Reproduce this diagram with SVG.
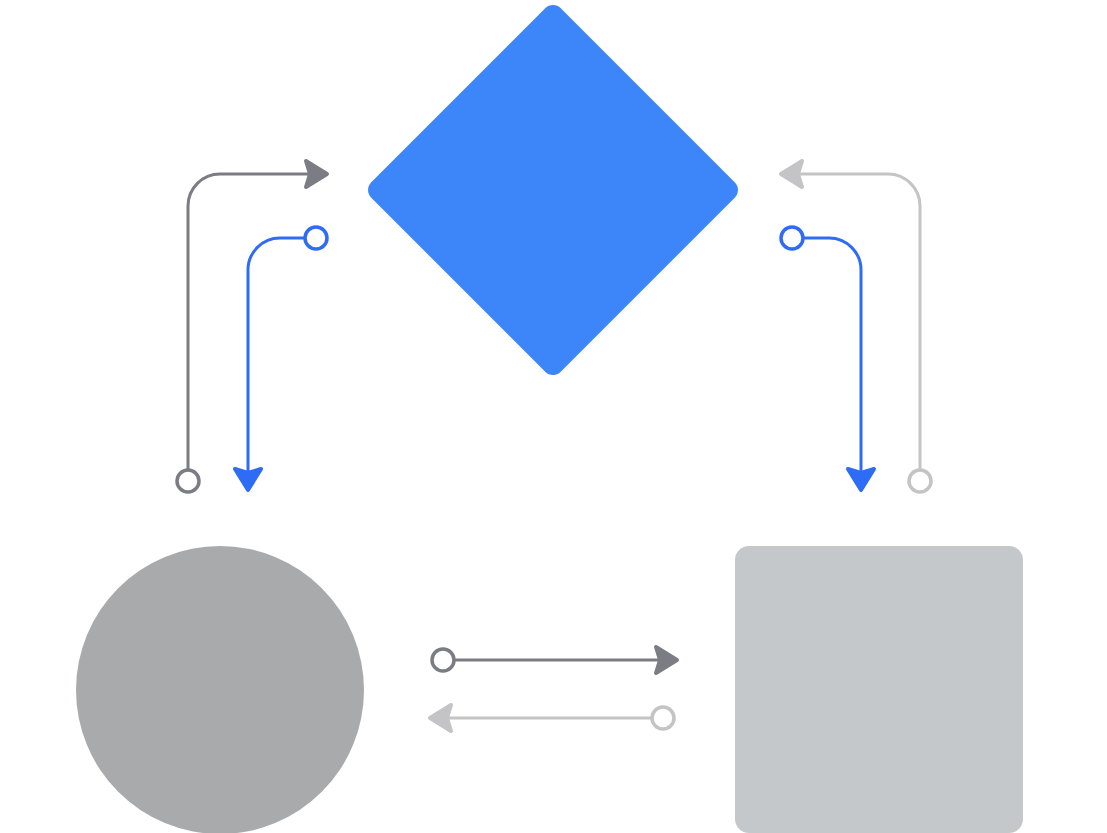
<svg xmlns="http://www.w3.org/2000/svg" width="1107" height="833" viewBox="0 0 1107 833">
<style>
.ln{fill:none;stroke-width:3;stroke-linecap:round}
.dot{fill:#fff;stroke-width:3.5}
.ah{stroke-width:4;stroke-linejoin:round}
.g{stroke:#7c7c84}.gf{fill:#7c7c84}
.b{stroke:#2f6cf6}.bf{fill:#2f6cf6}
.l{stroke:#c4c4c6}.lf{fill:#c4c4c6}
</style>
<rect width="1107" height="833" fill="#fff"/>
<g id="diamond"><rect x="-134" y="-134" width="268" height="268" rx="11" fill="#3d86fa" transform="translate(553,190) rotate(45)"/></g>
<g id="circle"><circle cx="220" cy="690" r="144" fill="#a9aaac"/></g>
<g id="square"><rect x="735" y="546" width="288" height="287" rx="14" fill="#c5c8cb"/></g>
<g id="connectors">
<path class="ln g" d="M188,470 V206 A32,32 0 0 1 220,174 H310"/>
<polygon class="ah g gf" points="306,161 327,174 306,187 310,174"/>
<circle class="dot g" cx="188" cy="481" r="11"/>

<path class="ln b" d="M305,238 H280 A32,32 0 0 0 248,270 V475"/>
<polygon class="ah b bf" points="235,469 248,490 261,469 248,473"/>
<circle class="dot b" cx="316" cy="238" r="11"/>

<path class="ln l" d="M920,470 V206 A32,32 0 0 0 888,174 H798"/>
<polygon class="ah l lf" points="802,161 781,174 802,187 798,174"/>
<circle class="dot l" cx="920" cy="481" r="11"/>

<path class="ln b" d="M803,238 H829 A32,32 0 0 1 861,270 V475"/>
<polygon class="ah b bf" points="848,469 861,490 874,469 861,473"/>
<circle class="dot b" cx="792" cy="238" r="11"/>

<path class="ln g" d="M454,660 H660"/>
<polygon class="ah g gf" points="656,647 677,660 656,673 660,660"/>
<circle class="dot g" cx="443" cy="660" r="11"/>

<path class="ln l" d="M652,718 H446"/>
<polygon class="ah l lf" points="451,705 430,718 451,731 447,718"/>
<circle class="dot l" cx="663" cy="718" r="11"/>
</g>
</svg>
